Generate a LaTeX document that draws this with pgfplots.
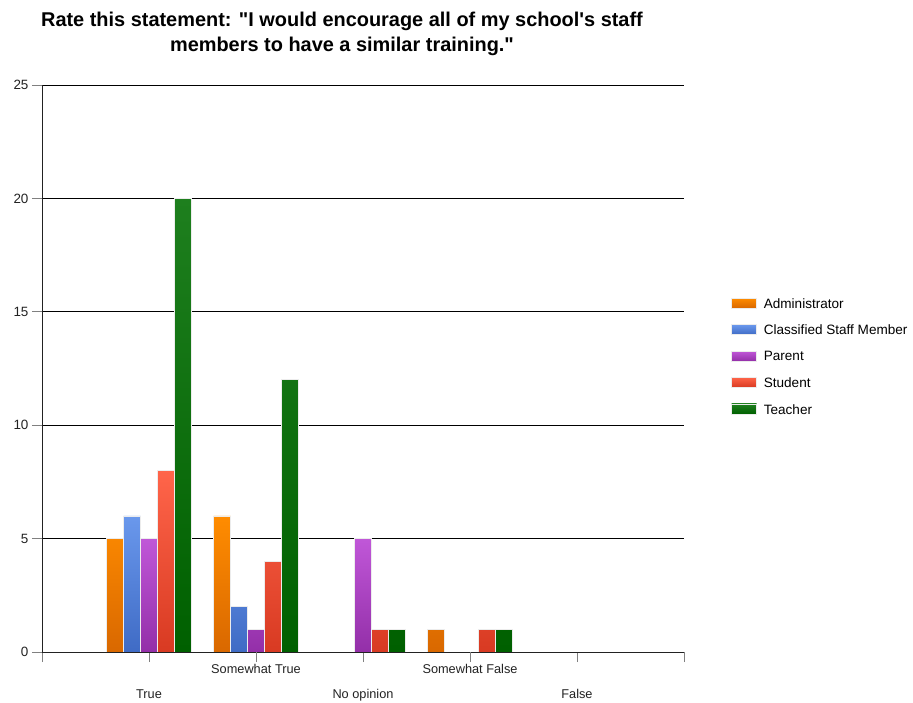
\documentclass[border=0pt]{standalone}
\usepackage{pgfplots}
\pgfplotsset{compat=1.18}
\usepackage{fontspec}
\setmainfont{Liberation Sans}[Ligatures=TeXOff]
\definecolor{adminT}{HTML}{FF8C00}\definecolor{adminB}{HTML}{D96800}
\definecolor{classT}{HTML}{6A98EC}\definecolor{classB}{HTML}{3F6BC5}
\definecolor{parT}{HTML}{C057D8}\definecolor{parB}{HTML}{932FA8}
\definecolor{stuT}{HTML}{FF654A}\definecolor{stuB}{HTML}{D83A22}
\definecolor{teaT}{HTML}{1E7F1E}\definecolor{teaB}{HTML}{006000}
\definecolor{tick}{HTML}{222222}
\begin{document}
\begin{tikzpicture}
\begin{axis}[
  scale only axis, width=642bp, height=567bp,
  at={(0,0)}, anchor=south west,
  xmin=0, xmax=6, ymin=0, ymax=25,
  ybar=0pt, bar width=17bp,
  axis x line*=bottom, axis y line*=left,
  axis line style={tick, line width=0.9pt},
  xtick={0,1,3,5,6}, xticklabels={,True,No opinion,False,},
  extra x ticks={2,4}, extra x tick labels={Somewhat True,Somewhat False},
  extra x tick style={xticklabel style={yshift=25bp}, grid=none},
  xticklabel style={yshift=-24bp, font=\fontsize{12.8}{14}\selectfont, text=tick},
  ytick={0,5,...,25},
  yticklabel style={font=\fontsize{13.5}{15}\selectfont, text=tick},
  /pgf/number format/assume math mode=true,
  ymajorgrids, grid style={black, line width=0.8pt},
  tick style={tick, line width=0.8pt},
  major tick length=10bp,
  xtick align=outside, ytick align=outside,
  tick pos=left,
  legend style={at={(1.0685,0.631)}, anchor=north west, draw=none, fill=none,
    font=\fontsize{13.6}{14}\selectfont, row sep=11.3bp, cells={anchor=west}},
  legend image code/.code={\fill[#1] (0bp,-4bp) rectangle (25bp,6bp);},
  legend cell align=left,
]
\addplot[draw=white!85!gray, line width=0.7pt, top color=adminT, bottom color=adminB] coordinates {(1,5) (2,6) (4,1)};
\addlegendentry{\hspace{5bp}Administrator}
\addplot[draw=white!85!gray, line width=0.7pt, top color=classT, bottom color=classB] coordinates {(1,6) (2,2)};
\addlegendentry{\hspace{5bp}Classified Staff Member}
\addplot[draw=white!85!gray, line width=0.7pt, top color=parT, bottom color=parB] coordinates {(1,5) (2,1) (3,5)};
\addlegendentry{\hspace{5bp}Parent}
\addplot[draw=white!85!gray, line width=0.7pt, top color=stuT, bottom color=stuB] coordinates {(1,8) (2,4) (3,1) (4,1)};
\addlegendentry{\hspace{5bp}Student}
\addplot[draw=white!85!gray, line width=0.7pt, top color=teaT, bottom color=teaB] coordinates {(1,20) (2,12) (3,1) (4,1)};
\addlegendentry{\hspace{5bp}Teacher}
\end{axis}
\node[anchor=north, align=center, font=\bfseries\fontsize{20}{25}\selectfont, inner sep=0pt] at (300bp,640bp)
  {Rate this statement: "I would encourage all of my school's staff\\members to have a similar training."};
\pgfresetboundingbox
\path[use as bounding box] (-42bp,-51bp) rectangle (871bp,652bp);
\end{tikzpicture}
\end{document}
